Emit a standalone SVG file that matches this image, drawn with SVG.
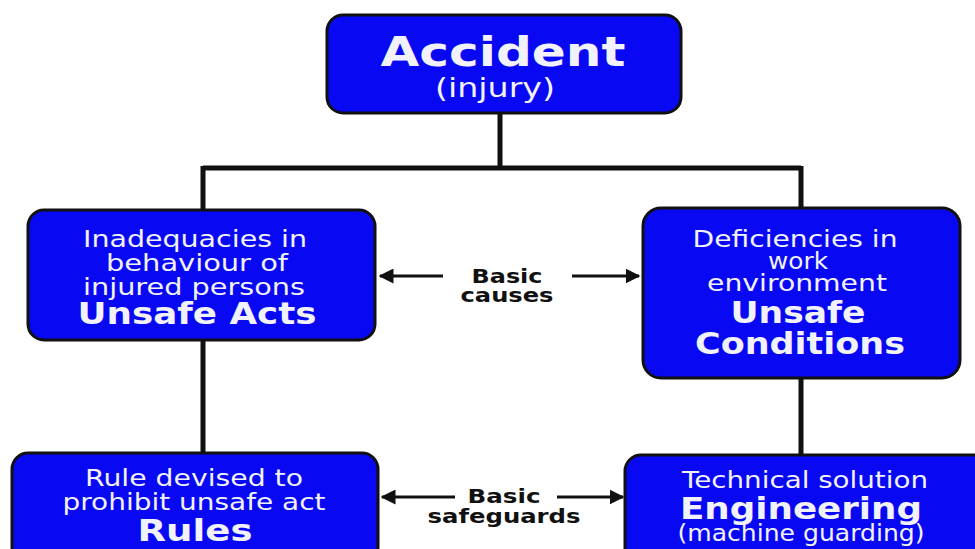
<svg xmlns="http://www.w3.org/2000/svg" width="975" height="549" viewBox="0 0 975 549">
<style>
.box{fill:#0808f2;stroke:#111;stroke-width:3}
.t{font-family:"DejaVu Sans",Verdana,sans-serif;fill:#f2f2ff;text-anchor:middle}
.n{font-size:23.5px}
.b{font-size:31px;font-weight:bold}
.lbl{font-family:"DejaVu Sans",Verdana,sans-serif;font-weight:bold;font-size:19px;fill:#111;text-anchor:middle}
.ln{stroke:#111;stroke-width:5;fill:none}
.ar{stroke:#111;stroke-width:3;fill:none;marker-end:url(#ah)}
</style>
<defs>
<marker id="ah" viewBox="0 0 10 10" refX="9" refY="5" markerWidth="5" markerHeight="5" orient="auto" markerUnits="strokeWidth">
<path d="M0,0 L10,5 L0,10 z" fill="#111"/>
</marker>
</defs>
<rect width="975" height="549" fill="#fff"/>
<g id="connectors">
<path class="ln" d="M500,113 V168 M203,168 H801 M203,166 V210 M801,166 V208"/>
<path class="ln" d="M203,340 V455 M801,378 V455"/>
<path class="ar" d="M443,276 H380"/>
<path class="ar" d="M572,276 H639"/>
<path class="ar" d="M455,497 H382"/>
<path class="ar" d="M557,497 H623"/>
<text class="lbl" x="507" y="283" textLength="71" lengthAdjust="spacingAndGlyphs">Basic</text>
<text class="lbl" x="507" y="302" textLength="93" lengthAdjust="spacingAndGlyphs">causes</text>
<text class="lbl" x="504" y="503" textLength="73" lengthAdjust="spacingAndGlyphs">Basic</text>
<text class="lbl" x="504" y="523" textLength="153" lengthAdjust="spacingAndGlyphs">safeguards</text>
</g>
<g id="accident">
<rect class="box" x="327" y="15" width="354" height="98" rx="16"/>
<text class="t" x="503" y="66" style="font-size:41px;font-weight:bold" textLength="245" lengthAdjust="spacingAndGlyphs">Accident</text>
<text class="t" x="495" y="97" style="font-size:26px" textLength="120" lengthAdjust="spacingAndGlyphs">(injury)</text>
</g>
<g id="unsafe-acts">
<rect class="box" x="28" y="210" width="347" height="130" rx="16"/>
<text class="t n" x="195" y="247" textLength="224" lengthAdjust="spacingAndGlyphs">Inadequacies in</text>
<text class="t n" x="197" y="271" textLength="182" lengthAdjust="spacingAndGlyphs">behaviour of</text>
<text class="t n" x="194" y="295" textLength="222" lengthAdjust="spacingAndGlyphs">injured persons</text>
<text class="t b" x="197" y="324" textLength="239" lengthAdjust="spacingAndGlyphs">Unsafe Acts</text>
</g>
<g id="unsafe-conditions">
<rect class="box" x="643" y="208" width="317" height="170" rx="18"/>
<text class="t n" x="795" y="247" textLength="205" lengthAdjust="spacingAndGlyphs">Deficiencies in</text>
<text class="t n" x="798" y="269" textLength="60" lengthAdjust="spacingAndGlyphs">work</text>
<text class="t n" x="797" y="291" textLength="180" lengthAdjust="spacingAndGlyphs">environment</text>
<text class="t b" x="798" y="323" textLength="135" lengthAdjust="spacingAndGlyphs">Unsafe</text>
<text class="t b" x="800" y="354" textLength="210" lengthAdjust="spacingAndGlyphs">Conditions</text>
</g>
<g id="rules">
<rect class="box" x="12" y="453" width="366" height="110" rx="16"/>
<text class="t n" x="194" y="486" textLength="218" lengthAdjust="spacingAndGlyphs">Rule devised to</text>
<text class="t n" x="194" y="510" textLength="263" lengthAdjust="spacingAndGlyphs">prohibit unsafe act</text>
<text class="t b" x="195" y="541" textLength="115" lengthAdjust="spacingAndGlyphs">Rules</text>
</g>
<g id="engineering">
<rect class="box" x="625" y="455" width="365" height="110" rx="16"/>
<text class="t n" x="805" y="488" textLength="246" lengthAdjust="spacingAndGlyphs">Technical solution</text>
<text class="t b" x="801" y="519" textLength="242" lengthAdjust="spacingAndGlyphs">Engineering</text>
<text class="t n" x="801" y="541" textLength="247" lengthAdjust="spacingAndGlyphs">(machine guarding)</text>
</g>
</svg>
